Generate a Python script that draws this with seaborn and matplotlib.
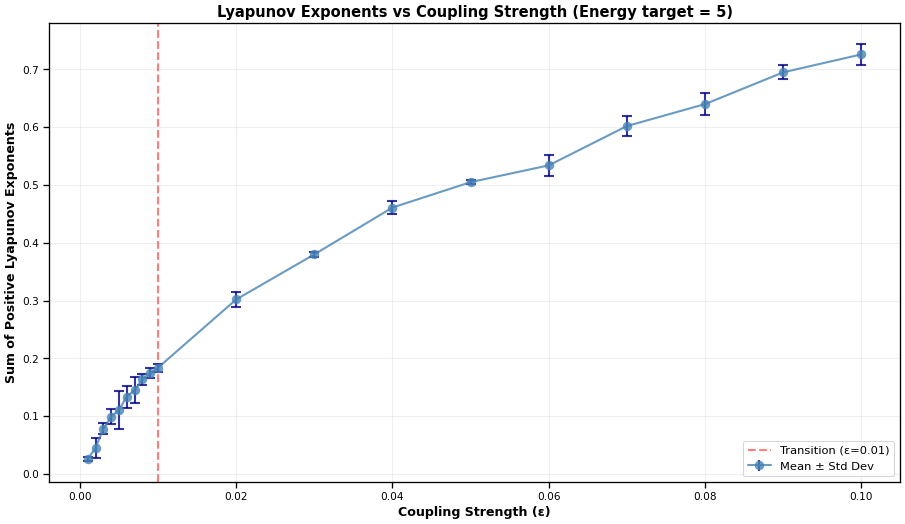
import numpy as np
import pandas as pd
import matplotlib
matplotlib.use("Agg")
import matplotlib.pyplot as plt
import seaborn as sns

coupling = [0.001, 0.002, 0.003, 0.004, 0.005, 0.006, 0.007, 0.008, 0.009, 0.010,
            0.02, 0.03, 0.04, 0.05, 0.06, 0.07, 0.08, 0.09, 0.10]
mean_lyap = [0.026, 0.045, 0.078, 0.099, 0.111, 0.134, 0.145, 0.164, 0.174, 0.184,
             0.302, 0.380, 0.461, 0.505, 0.534, 0.602, 0.640, 0.695, 0.726]
std_lyap = [0.0035, 0.018, 0.0095, 0.013, 0.033, 0.019, 0.022, 0.0098, 0.0086, 0.007,
            0.013, 0.004, 0.012, 0.004, 0.018, 0.017, 0.019, 0.012, 0.018]
transition = 0.01

df = pd.DataFrame({"eps": coupling, "mean": mean_lyap, "std": std_lyap})

sns.set_theme(style="ticks")
plt.rcParams["font.family"] = ["DejaVu Sans"]
plt.rcParams["text.color"] = "black"
plt.rcParams["axes.labelcolor"] = "black"
plt.rcParams["xtick.color"] = "black"
plt.rcParams["ytick.color"] = "black"

fig, ax = plt.subplots(figsize=(12, 6.95), dpi=75.42)

vline = ax.axvline(transition, color="red", linestyle="--", alpha=0.5, linewidth=2,
                   label=f"Transition (ε={transition})")

ax.errorbar(df["eps"], df["mean"], yerr=df["std"], fmt="none",
            ecolor="darkblue", elinewidth=2, capsize=5, capthick=2, alpha=0.8, zorder=2)
sns.lineplot(data=df, x="eps", y="mean", ax=ax, color="steelblue", marker="o",
             markersize=9, linewidth=2, alpha=0.8, markeredgewidth=0, zorder=3, legend=False)

# legend-only handle (empty errorbar container with same styling)
leg_handle = ax.errorbar([], [], yerr=[], fmt="o-", color="steelblue", ecolor="darkblue",
                         elinewidth=2, capsize=5, capthick=2, markersize=9, linewidth=2,
                         alpha=0.8, markeredgewidth=0)

ax.set_xlabel("Coupling Strength (ε)", fontsize=12, fontweight="bold", color="black")
ax.set_ylabel("Sum of Positive Lyapunov Exponents", fontsize=12, fontweight="bold", color="black")
ax.set_title("Lyapunov Exponents vs Coupling Strength (Energy target = 5)",
             fontsize=14, fontweight="bold", color="black")
ax.grid(True, alpha=0.3)
for s in ax.spines.values():
    s.set_color("black")
    s.set_visible(True)
ax.tick_params(colors="black", labelsize=10)

ax.legend([vline, leg_handle], [f"Transition (ε={transition})", "Mean ± Std Dev"],
          loc="lower right", fontsize=11)

fig.tight_layout(pad=0.4)
fig.savefig("out.png", dpi=75.42)
